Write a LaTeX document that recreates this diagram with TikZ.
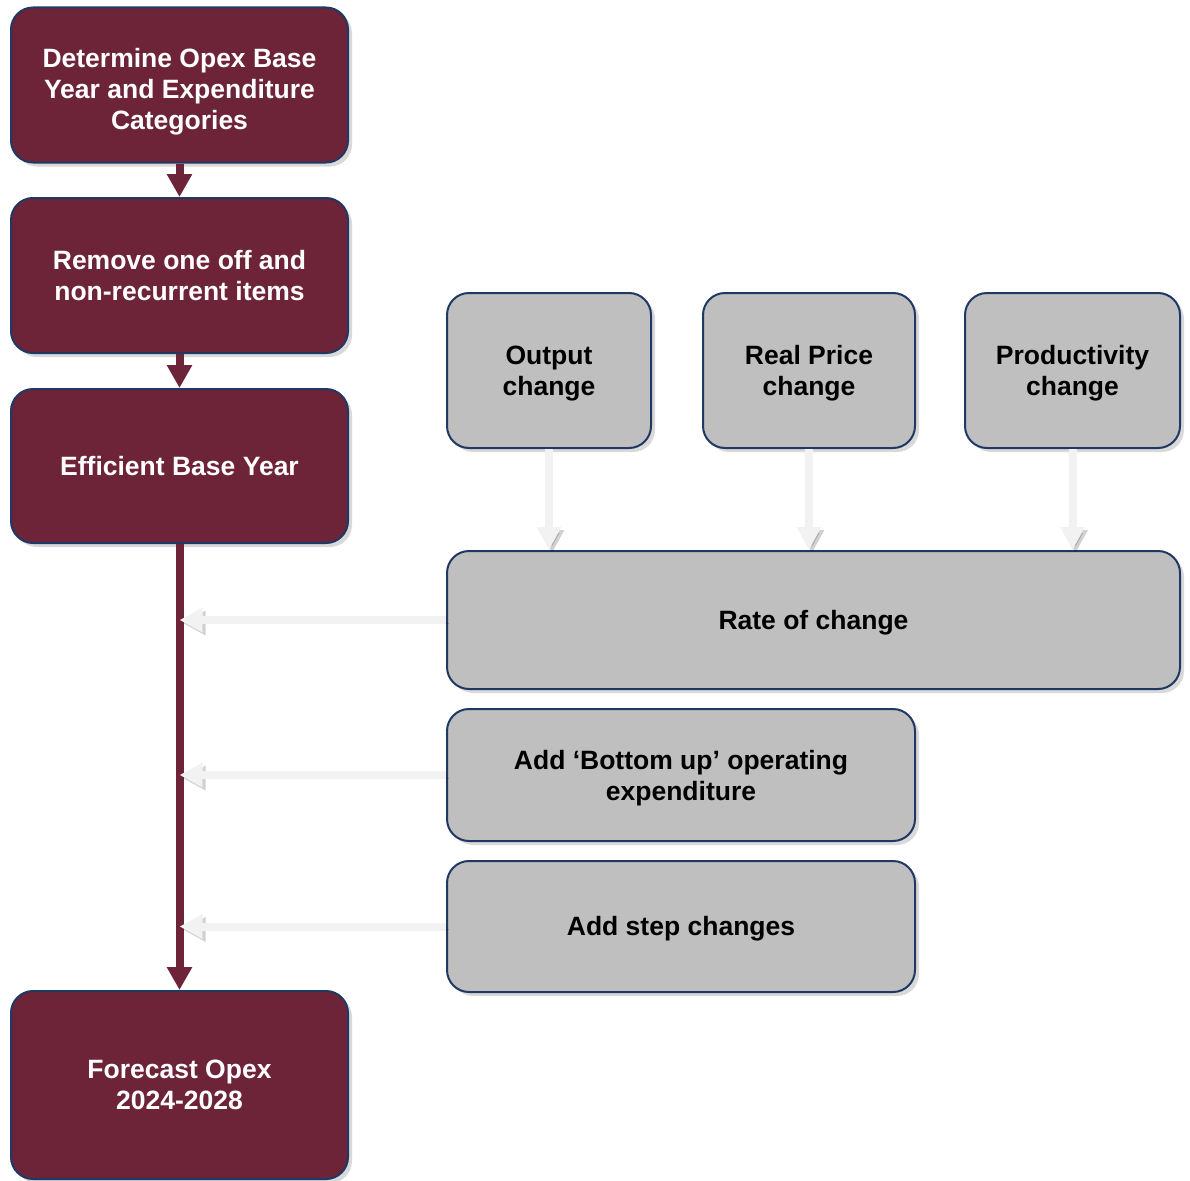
\documentclass[tikz,border=0pt]{standalone}
\usepackage{fontspec}
\setmainfont{Liberation Sans}
\usetikzlibrary{arrows.meta,shadows}
\definecolor{wine}{HTML}{6D2438}
\definecolor{edgeblue}{HTML}{1F3864}
\definecolor{boxgray}{HTML}{BFBFBF}
\definecolor{paleflow}{HTML}{F2F2F2}
\tikzset{
  stage/.style={draw=edgeblue, line width=2pt, rounded corners=22pt, fill=wine,
    text=white, align=center, inner sep=0pt,
    font=\bfseries\fontsize{26.5}{31}\selectfont,
    drop shadow={opacity=.3, shadow xshift=4pt, shadow yshift=-4pt}},
  factor/.style={stage, fill=boxgray, text=black},
  wineflow/.style={draw=wine, line width=8pt, -{Triangle[width=24pt,length=23pt]}},
  paleflow/.style={draw=paleflow, line width=8pt, -{Triangle[width=23pt,length=23pt]},
    preaction={draw=black, opacity=.18, transform canvas={xshift=3pt,yshift=-3pt}}}
}
\begin{document}
\begin{tikzpicture}[x=1pt,y=-1pt]
    \useasboundingbox (0,0) rectangle (1190,1180);
    % left column
    \path (179.5,85) node[stage, minimum width=337pt, minimum height=155pt,
      text height=88pt, text depth=0pt] (determine)
      {Determine Opex Base\\Year and Expenditure\\Categories};
    \path (179.5,275.5) node[stage, minimum width=337pt, minimum height=155pt] (remove)
      {Remove one off and\\non-recurrent items};
    \path (179.5,466) node[stage, minimum width=337pt, minimum height=154pt] (efficient)
      {Efficient Base Year};
    \path (179.5,1085) node[stage, minimum width=337pt, minimum height=188pt] (forecast)
      {Forecast Opex\\2024-2028};
    % factors
    \path (549,370.5) node[factor, minimum width=204pt, minimum height=155pt, text depth=0pt] (output)
      {Output\\change};
    \path (809,370.5) node[factor, minimum width=212pt, minimum height=155pt, text depth=0pt] (price)
      {Real Price\\change};
    \path (1072.5,370.5) node[factor, minimum width=215pt, minimum height=155pt, text depth=0pt] (productivity)
      {Productivity\\change};
    \path (813.5,620) node[factor, minimum width=733pt, minimum height=138pt, text depth=0pt] (rate)
      {Rate of change};
    \path (681,775) node[factor, minimum width=468pt, minimum height=132pt, text depth=0pt] (bottomup)
      {Add `Bottom up' operating\\expenditure};
    \path (681,926.5) node[factor, minimum width=468pt, minimum height=131pt, text depth=1.5pt] (stepchg)
      {Add step changes};
    % connectors
    \draw[wineflow] (determine) -- (remove);
    \draw[wineflow] (remove) -- (efficient);
    \draw[wineflow] (efficient) -- (forecast);
    \draw[paleflow] (output) -- (output |- rate.north);
    \draw[paleflow] (price) -- (price |- rate.north);
    \draw[paleflow] (productivity) -- (productivity |- rate.north);
    \draw[paleflow] (rate.west) -- (rate.west -| efficient.south);
    \draw[paleflow] (bottomup.west) -- (bottomup.west -| efficient.south);
    \draw[paleflow] (stepchg.west) -- (stepchg.west -| efficient.south);
\end{tikzpicture}
\end{document}
